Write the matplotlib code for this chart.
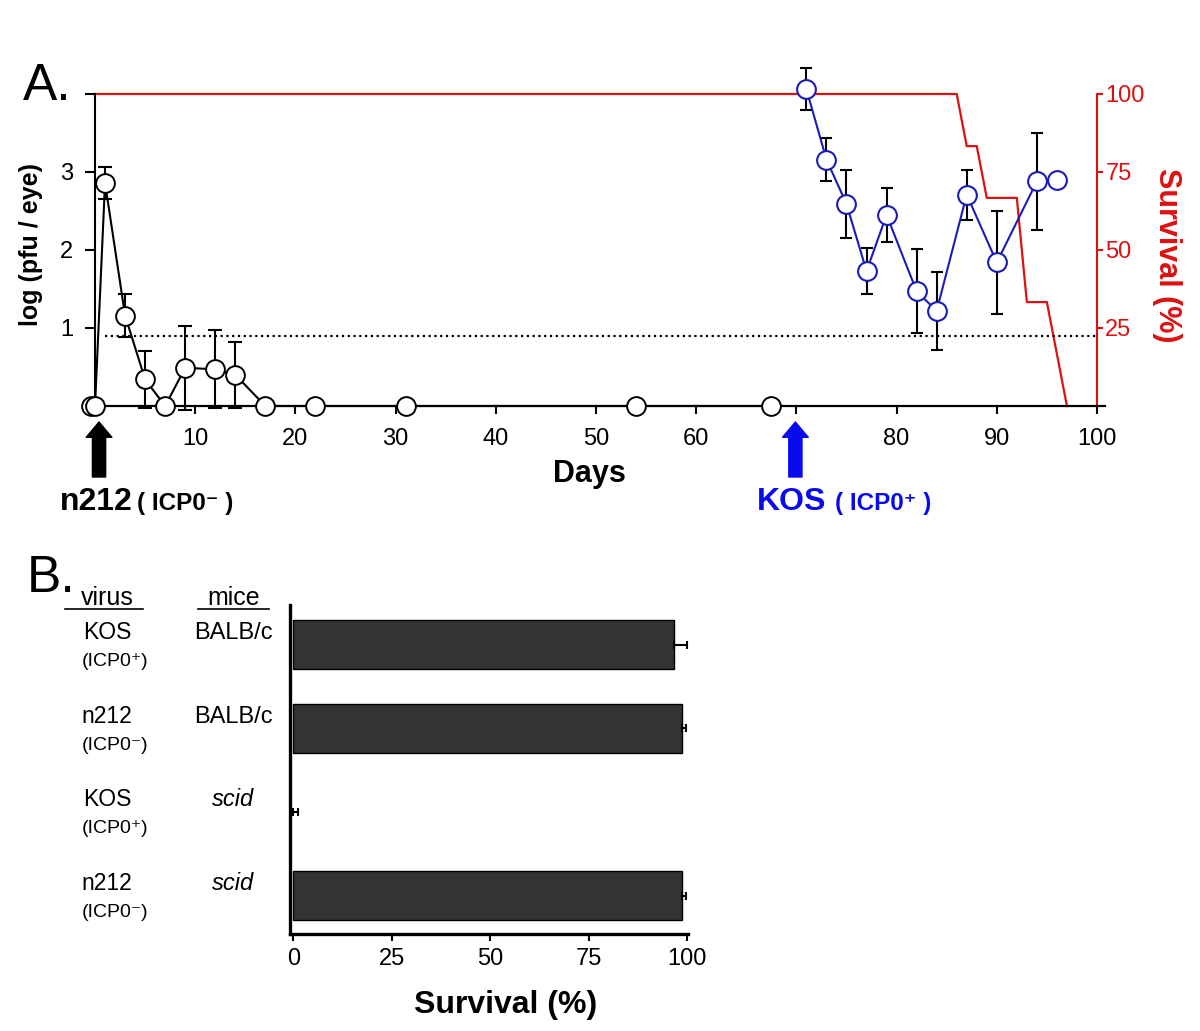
import numpy as np
import matplotlib
matplotlib.use('Agg')
import matplotlib.pyplot as plt
import matplotlib.transforms as mtransforms

plt.rcParams['font.family'] = ['Liberation Sans', 'DejaVu Sans']

# ---------------- Panel A data ----------------
n212_days = [-0.4, 0, 1, 3, 5, 7, 9, 12, 14, 17, 22, 31, 54, 67.5]
n212_log = [0, 0, 2.86, 1.16, 0.34, 0, 0.49, 0.47, 0.40, 0, 0, 0, 0, 0]
n212_err = [0, 0, 0.20, 0.28, 0.37, 0, 0.54, 0.50, 0.42, 0, 0, 0, 0, 0]

kos_days = [71, 73, 75, 77, 79, 82, 84, 87, 90, 94, 96]
kos_log = [4.06, 3.16, 2.59, 1.73, 2.45, 1.47, 1.22, 2.71, 1.84, 2.88, 2.90]
kos_err = [0.27, 0.27, 0.43, 0.30, 0.35, 0.54, 0.50, 0.32, 0.66, 0.62, 0.08]

surv_days = [0, 86, 87, 88, 89, 92, 93, 95, 97]
surv_pct = [100, 100, 83.3, 83.3, 66.7, 66.7, 33.3, 33.3, 0]

detect_limit = 0.9
x_ticks = [10, 20, 30, 40, 50, 60, 70, 80, 90, 100]
x_ticklabels = ['10', '20', '30', '40', '50', '60', '', '80', '90', '100']
y_ticks = [1, 2, 3, 4]
y_ticklabels = ['1', '2', '3', '']
surv_ticks = [25, 50, 75, 100]

# ---------------- Panel B data ----------------
b_virus = ['KOS', 'n212', 'KOS', 'n212']
b_icp = ['(ICP0\u207a)', '(ICP0\u207b)', '(ICP0\u207a)', '(ICP0\u207b)']
b_mice = ['BALB/c', 'BALB/c', 'scid', 'scid']
b_surv = [96.7, 98.8, 0, 98.8]
b_err = [3.2, 0.8, 1.3, 0.8]
b_ticks = [0, 25, 50, 75, 100]

W, H = 1200, 1031
fig = plt.figure(figsize=(W / 100, H / 100), dpi=100)


def fx(x):
    return x / W


def fy(y):
    return 1 - y / H


RED = '#dd1111'
BLUE = '#1c1cb4'
BRIGHT_BLUE = '#0a0aee'

# ---------------- Panel A ----------------
axA = fig.add_axes([fx(87), fy(406), (1105 - 87) / W, 347.1 / H])
axA.set_xlim(-0.8, 100.8)
axA.set_ylim(0, 4.45)
axS = axA.twinx()
axS.set_ylim(0, 4.45 * 25)
axA.set_zorder(2)
axS.set_zorder(1)
axA.patch.set_visible(False)

# survival curve (behind)
axS.plot(surv_days, surv_pct, color=RED, lw=1.6, clip_on=False)

# detection limit
axA.plot([1, 100], [detect_limit, detect_limit], color='black', ls=(0, (1, 1.6)), lw=1.6)

# n212 series
axA.errorbar(n212_days, n212_log, yerr=n212_err, fmt='none', ecolor='black',
             elinewidth=1.5, capsize=5, capthick=1.5, clip_on=False, zorder=2)
axA.plot(n212_days, n212_log, color='black', lw=1.5, marker='o', ms=13.5,
         mfc='white', mec='black', mew=1.4, clip_on=False, zorder=3)

# KOS series
axA.errorbar(kos_days, kos_log, yerr=kos_err, fmt='none', ecolor='black',
             elinewidth=1.5, capsize=4.5, capthick=1.5, clip_on=False, zorder=2)
axA.plot(kos_days, kos_log, color=BLUE, lw=1.5, marker='o', ms=13.5,
         mfc='white', mec=BLUE, mew=1.5, clip_on=False, zorder=3)

for s in ['top', 'right']:
    axA.spines[s].set_visible(False)
axA.spines['left'].set_position(('data', 0))
axA.spines['left'].set_bounds(0, 4)
axA.spines['left'].set_linewidth(1.5)
axA.spines['bottom'].set_linewidth(1.6)
axA.set_xticks(x_ticks)
axA.set_xticklabels(x_ticklabels)
axA.set_yticks(y_ticks)
axA.set_yticklabels(y_ticklabels)
axA.tick_params(axis='x', direction='out', length=6, width=1.5, labelsize=17, pad=10)
axA.tick_params(axis='y', direction='out', length=7, width=1.5, labelsize=17, pad=8.5)

for s in ['top', 'left', 'bottom']:
    axS.spines[s].set_visible(False)
axS.spines['right'].set_position(('data', 100))
axS.spines['right'].set_bounds(0, 100)
axS.spines['right'].set_color(RED)
axS.spines['right'].set_linewidth(1.5)
axS.set_yticks(surv_ticks)
axS.set_yticklabels([str(t) for t in surv_ticks])
axS.tick_params(axis='y', direction='out', length=4, width=1.5, labelsize=17,
                pad=2, colors=RED)

# arrows
xtr = axA.get_xaxis_transform()
tip = (406 - 422) / 347.1
tail = (406 - 477) / 347.1
for d, col in [(0.4, 'black'), (69.9, BRIGHT_BLUE)]:
    axA.annotate('', xy=(d, tip), xycoords=xtr, xytext=(d, tail), textcoords=xtr,
                 arrowprops=dict(facecolor=col, edgecolor=col, width=9.5,
                                 headwidth=18.5, headlength=11, shrink=0),
                 annotation_clip=False)

fig.text(fx(23), fy(100), 'A.', fontsize=37, ha='left', va='baseline')
fig.text(fx(31), fy(245), 'log (pfu / eye)', fontsize=18, fontweight='bold',
         rotation=90, ha='center', va='center')
fig.text(fx(1167), fy(255), 'Survival (%)', fontsize=22, fontweight='bold',
         color=RED, rotation=270, ha='center', va='center')
fig.text(fx(589), fy(482), 'Days', fontsize=22, fontweight='bold', ha='center', va='baseline')
fig.text(fx(60), fy(510), 'n212', fontsize=23, fontweight='bold', ha='left', va='baseline')
fig.text(fx(137), fy(510), '( ICP0\u207b )', fontsize=17.5, fontweight='bold', ha='left', va='baseline')
fig.text(fx(757), fy(510), 'KOS', fontsize=23, fontweight='bold', color=BRIGHT_BLUE, ha='left', va='baseline')
fig.text(fx(835), fy(510), '( ICP0\u207a )', fontsize=17.5, fontweight='bold', color=BRIGHT_BLUE, ha='left', va='baseline')

# ---------------- Panel B ----------------
axB = fig.add_axes([fx(290), fy(934), (688 - 290) / W, (934 - 605) / H])
ypos = np.arange(len(b_surv))
edge_cols = ['black' if v > 0 else 'none' for v in b_surv]
axB.barh(ypos, b_surv, height=0.586, color='#333333', edgecolor=edge_cols, lw=1)
axB.errorbar(b_surv, ypos, xerr=[np.zeros(len(b_err)), b_err], fmt='none',
             ecolor='black', elinewidth=1.5, capsize=3, capthick=1.5)
axB.set_xlim(-0.85, 100.2)
axB.set_ylim(3.46, -0.475)
for s in ['top', 'right']:
    axB.spines[s].set_visible(False)
axB.spines['left'].set_linewidth(2.4)
axB.spines['bottom'].set_linewidth(2.4)
axB.set_yticks([])
axB.set_xticks(b_ticks)
axB.set_xticklabels([str(t) for t in b_ticks])
axB.tick_params(axis='x', direction='out', length=5, width=1.5, labelsize=17, pad=5)
fig.text(fx(506), fy(1013), 'Survival (%)', fontsize=23, fontweight='bold',
         ha='center', va='baseline')

fig.text(fx(27), fy(592), 'B.', fontsize=37, ha='left', va='baseline')
fig.text(fx(107.5), fy(605), 'virus', fontsize=18, ha='center', va='baseline')
fig.text(fx(234), fy(605), 'mice', fontsize=18, ha='center', va='baseline')
fig.add_artist(plt.Line2D([fx(65), fx(143)], [fy(609), fy(609)], color='black', lw=1.2))
fig.add_artist(plt.Line2D([fx(198), fx(269)], [fy(609), fy(609)], color='black', lw=1.2))

rtr = mtransforms.blended_transform_factory(fig.transFigure, axB.transData)
for i in range(len(b_virus)):
    fig.text(fx(107), i - 0.065, b_virus[i], fontsize=16.5, ha='center', va='baseline', transform=rtr)
    fig.text(fx(115), i + 0.255, b_icp[i], fontsize=14, ha='center', va='baseline', transform=rtr)
    style = 'italic' if b_mice[i] == 'scid' else 'normal'
    fig.text(fx(233), i - 0.065, b_mice[i], fontsize=17, style=style, ha='center',
             va='baseline', transform=rtr)

fig.savefig('out.png', dpi=100)
